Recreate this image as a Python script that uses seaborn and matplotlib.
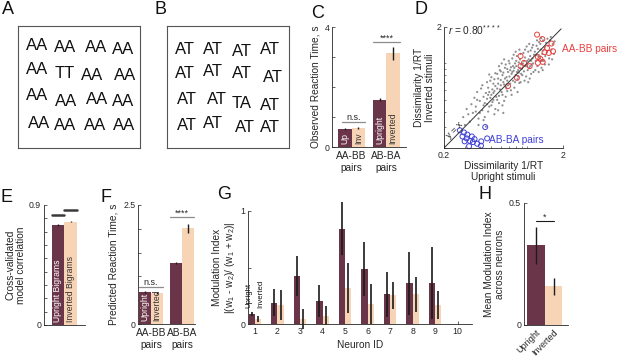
import numpy as np
import pandas as pd
import matplotlib.pyplot as plt
from matplotlib.ticker import NullFormatter
import seaborn as sns

sns.set_theme(style="ticks")
plt.rcParams["font.family"] = ["Liberation Sans", "DejaVu Sans"]
plt.rcParams["mathtext.fontset"] = "custom"
plt.rcParams["mathtext.rm"] = "Liberation Sans"
plt.rcParams["mathtext.it"] = "Liberation Sans:italic"

W, H = 617, 356
DARK = "#6B3549"
PEACH = "#F8D4B6"
INK = "#262626"
RED = "#E8413F"
BLUE = "#4040D8"

# ---------------- data ----------------
# A / B : search arrays
stim_a = ["AA", "AA", "AA", "AA",
          "AA", "TT", "AA", "AA",
          "AA", "AA", "AA", "AA",
          "AA", "AA", "AA", "AA"]
stim_b = ["AT", "AT", "AT", "AT",
          "AT", "AT", "AT", "AT",
          "AT", "AT", "TA", "AT",
          "AT", "AT", "AT", "AT"]
# item centres inside each box (pixels from box top-left)
pos_a = [(19, 19), (47, 21), (78, 22), (105, 23),
         (19, 43), (47, 48), (74, 50), (107, 50),
         (19, 70), (48, 75), (79, 73), (105, 76),
         (21, 97), (47, 99), (77, 100), (106, 100)]
pos_b = [(18, 24), (46, 23), (75, 26), (103, 24),
         (18, 47), (46, 46), (75, 48), (106, 51),
         (20, 74), (50, 74), (75, 77), (103, 79),
         (20, 99), (46, 98), (78, 101), (103, 101)]

# C : observed reaction time
c_pairs = ["AA-BB\npairs", "AB-BA\npairs"]
c_up = [0.61, 1.58]
c_up_err = [0.03, 0.04]
c_inv = [0.63, 3.13]
c_inv_err = [0.03, 0.22]
c_bar_text = ["Up", "Inv", "Upright", "Inverted"]
c_sig_y = [0.83, 3.49]
c_sig_text = ["n.s.", "****"]

# D : dissimilarity scatter
cloud_pts = [
    (0.29, 0.36), (0.31, 0.42), (0.33, 0.33), (0.34, 0.46), (0.35, 0.39), (0.30, 0.31), (0.36, 0.52), (0.32, 0.38),
    (0.37, 0.44), (0.38, 0.58), (0.39, 0.35), (0.40, 0.49), (0.41, 0.62), (0.42, 0.41), (0.43, 0.53), (0.44, 0.47),
    (0.38, 0.50), (0.40, 0.39), (0.42, 0.66), (0.44, 0.36), (0.45, 0.57), (0.37, 0.40), (0.43, 0.45), (0.39, 0.31),
    (0.46, 0.51), (0.47, 0.63), (0.48, 0.44), (0.49, 0.72), (0.50, 0.55), (0.51, 0.48), (0.52, 0.68), (0.53, 0.59),
    (0.54, 0.42), (0.46, 0.70), (0.47, 0.40), (0.48, 0.58), (0.49, 0.52), (0.50, 0.77), (0.51, 0.61), (0.52, 0.50),
    (0.53, 0.74), (0.54, 0.65), (0.55, 0.53), (0.46, 0.46), (0.48, 0.81), (0.50, 0.45), (0.52, 0.57), (0.54, 0.83),
    (0.47, 0.55), (0.53, 0.38), (0.43, 0.34), (0.45, 0.30),
    (0.56, 0.62), (0.57, 0.75), (0.58, 0.54), (0.59, 0.88), (0.60, 0.66), (0.61, 0.58), (0.62, 0.80), (0.63, 0.70),
    (0.64, 0.49), (0.65, 0.92), (0.66, 0.64), (0.67, 0.77), (0.68, 0.59), (0.69, 0.85), (0.56, 0.50), (0.57, 0.68),
    (0.58, 0.95), (0.59, 0.61), (0.60, 0.73), (0.61, 1.00), (0.62, 0.55), (0.63, 0.84), (0.64, 0.67), (0.65, 0.75),
    (0.66, 0.98), (0.67, 0.62), (0.68, 0.72), (0.69, 0.66), (0.70, 1.05), (0.58, 0.47), (0.62, 0.45), (0.66, 0.53),
    (0.56, 0.82), (0.60, 0.86), (0.64, 1.08), (0.68, 0.90), (0.57, 0.41), (0.63, 0.39),
    (0.71, 0.78), (0.72, 0.68), (0.73, 0.93), (0.74, 0.82), (0.75, 1.10), (0.76, 0.72), (0.77, 0.87), (0.78, 0.63),
    (0.79, 1.00), (0.80, 0.80), (0.81, 0.95), (0.82, 1.15), (0.83, 0.74), (0.84, 0.88), (0.85, 1.02), (0.86, 0.69),
    (0.87, 0.92), (0.88, 1.20), (0.89, 0.82), (0.71, 1.00), (0.73, 0.60), (0.75, 0.85), (0.77, 1.18), (0.79, 0.70),
    (0.81, 1.05), (0.83, 0.58), (0.85, 0.84), (0.87, 1.08), (0.89, 0.98), (0.72, 0.88), (0.76, 0.95), (0.80, 1.25),
    (0.84, 0.78), (0.88, 0.70), (0.74, 0.55), (0.78, 0.92), (0.82, 0.85), (0.86, 1.30), (0.90, 0.90),
    (0.92, 1.00), (0.94, 0.86), (0.96, 1.12), (0.98, 0.78), (1.00, 1.05), (1.02, 1.25), (1.04, 0.92), (1.06, 1.15),
    (1.08, 0.82), (1.10, 1.35), (1.12, 1.00), (1.14, 1.18), (0.93, 1.22), (0.95, 0.72), (0.97, 0.95), (0.99, 1.38),
    (1.01, 0.88), (1.03, 1.08), (1.05, 0.75), (1.07, 1.28), (1.09, 0.98), (1.11, 1.10), (1.13, 0.85), (0.91, 0.80),
    (0.96, 1.30), (1.00, 0.95), (1.04, 1.45), (1.08, 1.05), (1.12, 1.42), (0.94, 1.05), (1.02, 0.70), (1.06, 0.95),
    (1.16, 1.25), (1.18, 1.05), (1.20, 1.40), (1.22, 0.95), (1.24, 1.15), (1.26, 1.50), (1.28, 1.10), (1.30, 1.30),
    (1.32, 0.92), (1.34, 1.20), (1.36, 1.55), (1.38, 1.05), (1.40, 1.35), (1.42, 1.15), (1.17, 0.88), (1.21, 1.55),
    (1.25, 0.85), (1.29, 1.45), (1.33, 1.05), (1.37, 1.28), (1.41, 0.98), (1.44, 1.48), (1.19, 1.18), (1.23, 1.32),
    (1.31, 1.62), (1.35, 0.88),
    (1.47, 1.25), (1.50, 1.40), (1.53, 1.10), (1.56, 1.55), (1.60, 1.30), (1.64, 1.45), (1.68, 1.20), (1.48, 1.60),
    (1.52, 0.98), (1.58, 1.65), (1.62, 1.08), (1.70, 1.52),
]
aabb_x = [1.21, 1.34, 1.60, 1.47, 1.40, 1.52, 1.65, 1.23, 1.29, 1.35, 1.23, 1.05, 0.88, 0.88, 0.82, 0.69, 0.94]
aabb_y = [1.73, 1.59, 1.46, 1.34, 1.24, 1.22, 1.26, 1.13, 1.09, 1.03, 1.01, 0.95, 0.95, 1.15, 0.76, 0.65, 1.01]
abba_x = [0.272, 0.294, 0.314, 0.286, 0.310, 0.343, 0.361, 0.330, 0.298, 0.350, 0.380, 0.325, 0.411, 0.409, 0.444, 0.461]
abba_y = [0.280, 0.269, 0.258, 0.249, 0.240, 0.249, 0.237, 0.229, 0.227, 0.224, 0.217, 0.207, 0.227, 0.209, 0.298, 0.240]

# E : cross-validated model correlation
e_models = ["Upright Bigrams", "Inverted Bigrams"]
e_corr = [0.75, 0.775]
e_err = [0.008, 0.005]
e_ceiling = [0.825, 0.8625]

# F : predicted reaction time
f_pairs = ["AA-BB\npairs", "AB-BA\npairs"]
f_up = [0.665, 1.29]
f_up_err = [0.02, 0.02]
f_inv = [0.66, 2.01]
f_inv_err = [0.02, 0.10]
f_sig_y = [0.77, 2.24]

# G : modulation index per neuron
neurons = [str(i) for i in range(1, 11)]
g_up = [0.088, 0.188, 0.424, 0.203, 0.844, 0.485, 0.262, 0.359, 0.365]
g_up_err = [0.02, 0.118, 0.18, 0.14, 0.232, 0.24, 0.20, 0.28, 0.32]
g_inv = [0.044, 0.168, 0.044, 0.074, 0.32, 0.176, 0.256, 0.262, 0.165]
g_inv_err = [0.03, 0.132, 0.092, 0.087, 0.224, 0.176, 0.12, 0.155, 0.125]

# H : mean modulation index
h_cond = ["Upright", "Inverted"]
h_mi = [0.326, 0.158]
h_err = [0.075, 0.033]
h_sig_y = 0.425

# ---------------- figure ----------------
fig = plt.figure(figsize=(W / 100, H / 100), dpi=100)
fig.patch.set_facecolor("white")


def add_axes_px(l, t, r, b):
    return fig.add_axes([l / W, 1 - b / H, (r - l) / W, (b - t) / H])


def style(ax):
    sns.despine(ax=ax)
    for s in ("left", "bottom"):
        ax.spines[s].set_linewidth(0.6)
        ax.spines[s].set_color(INK)
    ax.tick_params(direction="in", length=2.5, width=0.5, colors=INK,
                   labelsize=6.3, pad=2)
    ax.set_facecolor("none")


def sorted_bars(ax):
    return sorted([p for p in ax.patches if p.get_width() > 0], key=lambda p: p.get_x())


def draw_err(ax, vals, errs, color="#1c1c1c", lw=1.0):
    xs = [p.get_x() + p.get_width() / 2 for p in sorted_bars(ax)]
    eb = ax.errorbar(xs, vals, yerr=errs, fmt="none", ecolor=color, elinewidth=lw, capsize=0)
    for lc in eb.lines[2]:
        lc.set_clip_on(False)


def bar_text(ax, labels, colors, fs=6.2):
    for p, lab, col in zip(sorted_bars(ax), labels, colors):
        ax.annotate(lab, (p.get_x() + p.get_width() / 2, 0), xytext=(0, 2),
                    textcoords="offset points", rotation=90, ha="center",
                    va="bottom", fontsize=fs, color=col)


def sig(ax, x0, x1, y, label, color="#8c8c8c", lw=0.9, fs=6.5):
    ax.plot([x0, x1], [y, y], color=color, lw=lw, clip_on=False)
    ax.text((x0 + x1) / 2, y, label, ha="center", va="bottom", fontsize=fs, color=INK)


def letter(x, y, s):
    fig.text(x / W, 1 - y / H, s, ha="center", va="center", fontsize=13, color="#111111")


# ---- A, B ----
for (l, t, r, b), items, pos in [((18, 26, 140, 148), stim_a, pos_a),
                                  ((167, 26, 289, 148), stim_b, pos_b)]:
    ax = add_axes_px(l, t, r, b)
    ax.set_xlim(0, r - l)
    ax.set_ylim(b - t, 0)
    ax.set_xticks([])
    ax.set_yticks([])
    for s in ax.spines.values():
        s.set_color("#555555")
        s.set_linewidth(0.8)
    for txt, (px, py) in zip(items, pos):
        ax.text(px, py, txt, ha="center", va="center", fontsize=12, color="#111111")

# ---- C ----
axc = add_axes_px(332, 27, 406, 147)
dfc = pd.DataFrame({"pair": c_pairs * 2,
                    "cond": ["Upright"] * 2 + ["Inverted"] * 2,
                    "rt": c_up + c_inv})
sns.barplot(data=dfc, x="pair", y="rt", hue="cond", hue_order=["Upright", "Inverted"],
            palette=[DARK, PEACH], width=0.77, errorbar=None, saturation=1,
            legend=False, linewidth=0, ax=axc)
style(axc)
draw_err(axc, [c_up[0], c_inv[0], c_up[1], c_inv[1]],
         [c_up_err[0], c_inv_err[0], c_up_err[1], c_inv_err[1]])
bar_text(axc, c_bar_text, ["white", "#333333", "white", "#333333"])
bc = sorted_bars(axc)
sig(axc, bc[0].get_x() + 0.1, bc[1].get_x() + bc[1].get_width(), c_sig_y[0], c_sig_text[0])
sig(axc, bc[2].get_x(), bc[3].get_x() + bc[3].get_width(), c_sig_y[1], c_sig_text[1])
axc.set_xlim(-0.56, 1.56)
axc.set_ylim(0, 4)
axc.set_yticks([0, 1, 2, 3, 4], ["0", "", "", "", "4"])
axc.tick_params(axis="x", length=0, labelsize=7.3, pad=3)
axc.set_xlabel("")
axc.set_ylabel("Observed Reaction Time, s", fontsize=7.3, color=INK, labelpad=3)

# ---- D ----
axd = add_axes_px(444, 27, 563, 148)
axd.set_xscale("log")
axd.set_yscale("log")
sns.scatterplot(x=[p[0] for p in cloud_pts], y=[p[1] for p in cloud_pts], s=2.5,
                color="#8f8f8f", edgecolor="none", ax=axd)
sns.scatterplot(x=aabb_x, y=aabb_y, s=13, facecolors="none", edgecolor=RED,
                linewidth=0.7, ax=axd)
sns.scatterplot(x=abba_x, y=abba_y, s=13, facecolors="none", edgecolor=BLUE,
                linewidth=0.7, ax=axd, clip_on=False)
axd.plot([0.2, 1.93], [0.2, 1.93], color="#333333", lw=0.7)
style(axd)
axd.set_xlim(0.2, 2)
axd.set_ylim(0.2, 2)
axd.set_xticks([0.2, 2], ["0.2", "2"])
axd.set_yticks([0.2, 2], ["", "2"])
minor = [0.3, 0.4, 0.5, 0.6, 0.7, 0.8, 0.9, 1.0]
axd.set_xticks(minor, minor=True)
axd.set_yticks(minor, minor=True)
axd.xaxis.set_minor_formatter(NullFormatter())
axd.yaxis.set_minor_formatter(NullFormatter())
axd.tick_params(which="minor", direction="in", length=1.5, width=0.4, colors=INK)
axd.text(0.03, 0.975, r"$r$ = 0.80$^{****}$", transform=axd.transAxes,
         fontsize=7.3, color=INK, va="center", ha="left")
axd.text(0.09, 0.15, "y = x", transform=axd.transAxes, rotation=45,
         fontsize=6.5, color=INK, ha="center", va="center")
axd.text(0.378, 0.066, "AB-BA pairs", transform=axd.transAxes, color=BLUE,
         fontsize=7.3, ha="left", va="center")
axd.text(0.995, 0.82, "AA-BB pairs", transform=axd.transAxes, color=RED,
         fontsize=7.3, ha="left", va="center", clip_on=False)
axd.set_xlabel("Dissimilarity 1/RT\nUpright stimuli", fontsize=7.3, color=INK,
               labelpad=1, linespacing=1.1)
axd.set_ylabel("Dissimilarity 1/RT\nInverted stimuli", fontsize=7.3, color=INK,
               labelpad=1, linespacing=1.1)

# ---- E ----
axe = add_axes_px(44, 205, 85, 325)
sns.barplot(x=e_models, y=e_corr, hue=e_models, palette=[DARK, PEACH], width=1.0,
            errorbar=None, saturation=1, legend=False, linewidth=0, ax=axe)
style(axe)
draw_err(axe, e_corr, e_err)
bar_text(axe, e_models, ["white", "#333333"], fs=6.2)
be = sorted_bars(axe)
for p, c in zip(be, e_ceiling):
    axe.plot([p.get_x(), p.get_x() + p.get_width()], [c, c], color="#3a3a3a", lw=1.8)
axe.set_xlim(-1.12, 2.16)
axe.set_ylim(0, 0.9)
axe.set_yticks(np.linspace(0, 0.9, 10), ["0"] + [""] * 8 + ["0.9"])
axe.set_xticks([])
axe.set_ylabel("Cross-validated\nmodel correlation", fontsize=7.3, color=INK,
               labelpad=2, linespacing=1.1)

# ---- F ----
axf = add_axes_px(138, 205, 195, 324)
dff = pd.DataFrame({"pair": f_pairs * 2,
                    "cond": ["Upright"] * 2 + ["Inverted"] * 2,
                    "rt": f_up + f_inv})
sns.barplot(data=dff, x="pair", y="rt", hue="cond", hue_order=["Upright", "Inverted"],
            palette=[DARK, PEACH], width=0.77, errorbar=None, saturation=1,
            legend=False, linewidth=0, ax=axf)
style(axf)
draw_err(axf, [f_up[0], f_inv[0], f_up[1], f_inv[1]],
         [f_up_err[0], f_inv_err[0], f_up_err[1], f_inv_err[1]])
bar_text(axf, ["Upright", "Inverted"], ["white", "#333333"])
bf = sorted_bars(axf)
sig(axf, bf[0].get_x(), bf[1].get_x() + bf[1].get_width(), f_sig_y[0], "n.s.")
sig(axf, bf[2].get_x(), bf[3].get_x() + bf[3].get_width(), f_sig_y[1], "****")
axf.set_xlim(-0.42, 1.42)
axf.set_ylim(0, 2.5)
axf.set_yticks([0, 0.5, 1, 1.5, 2, 2.5], ["0", "", "", "", "", "2.5"])
axf.tick_params(axis="x", length=0, labelsize=7.3, pad=3)
axf.set_xlabel("")
axf.set_ylabel("Predicted Reaction Time, s", fontsize=7.3, color=INK, labelpad=3)

# ---- G ----
axg = add_axes_px(248, 211, 472, 324)
dfg = pd.DataFrame({"neuron": neurons[:9] * 2,
                    "cond": ["Upright"] * 9 + ["Inverted"] * 9,
                    "mi": g_up + g_inv})
sns.barplot(data=dfg, x="neuron", y="mi", hue="cond", order=neurons,
            hue_order=["Upright", "Inverted"], palette=[DARK, PEACH], width=0.55,
            errorbar=None, saturation=1, legend=False, linewidth=0, ax=axg)
style(axg)
draw_err(axg, [v for pr in zip(g_up, g_inv) for v in pr],
         [v for pr in zip(g_up_err, g_inv_err) for v in pr], color="#1a1a1a", lw=1.2)
bg = sorted_bars(axg)
for p, lab, dx in zip(bg[:2], h_cond, (-2.0, 2.0)):
    axg.annotate(lab, (p.get_x() + p.get_width() / 2, 0.14), xytext=(dx, 0),
                 textcoords="offset points", rotation=90, ha="center",
                 va="bottom", fontsize=5.6, color="#111111")
axg.set_xlim(-0.31, 9.64)
axg.set_ylim(0, 1)
axg.set_yticks([0, 0.5, 1], ["0", "", "1"])
axg.tick_params(axis="x", length=2)
axg.set_xlabel("Neuron ID", fontsize=7.3, color=INK, labelpad=3)
axg.set_ylabel("Modulation Index\n|(w$_1$ - w$_2$)/ (w$_1$ + w$_2$)|", fontsize=7.3,
               color=INK, labelpad=2, linespacing=1.1)

# ---- H ----
axh = add_axes_px(524, 203, 568, 325)
sns.barplot(x=h_cond, y=h_mi, hue=h_cond, palette=[DARK, PEACH], width=1.0,
            errorbar=None, saturation=1, legend=False, linewidth=0, ax=axh)
style(axh)
draw_err(axh, h_mi, h_err)
bh = sorted_bars(axh)
xc = [p.get_x() + p.get_width() / 2 for p in bh]
sig(axh, xc[0], xc[1], h_sig_y, "*", color="#1a1a1a", lw=0.8)
axh.set_xlim(-0.69, 1.83)
axh.set_ylim(0, 0.5)
axh.set_yticks([0, 0.5], ["0", "0.5"])
axh.tick_params(axis="x", length=0, labelsize=6.5, pad=2)
for lab in axh.get_xticklabels():
    lab.set_rotation(45)
    lab.set_ha("right")
    lab.set_rotation_mode("anchor")
axh.set_ylabel("Mean Modulation Index\nacross neurons", fontsize=7.3, color=INK,
               labelpad=3, linespacing=1.1)

# panel letters
for x, y, s in [(8, 10, "A"), (160, 10, "B"), (318, 13, "C"), (421, 9, "D"),
                (7, 198, "E"), (106, 198, "F"), (224, 195, "G"), (485, 195, "H")]:
    letter(x, y, s)

fig.savefig("out.png", dpi=100)
